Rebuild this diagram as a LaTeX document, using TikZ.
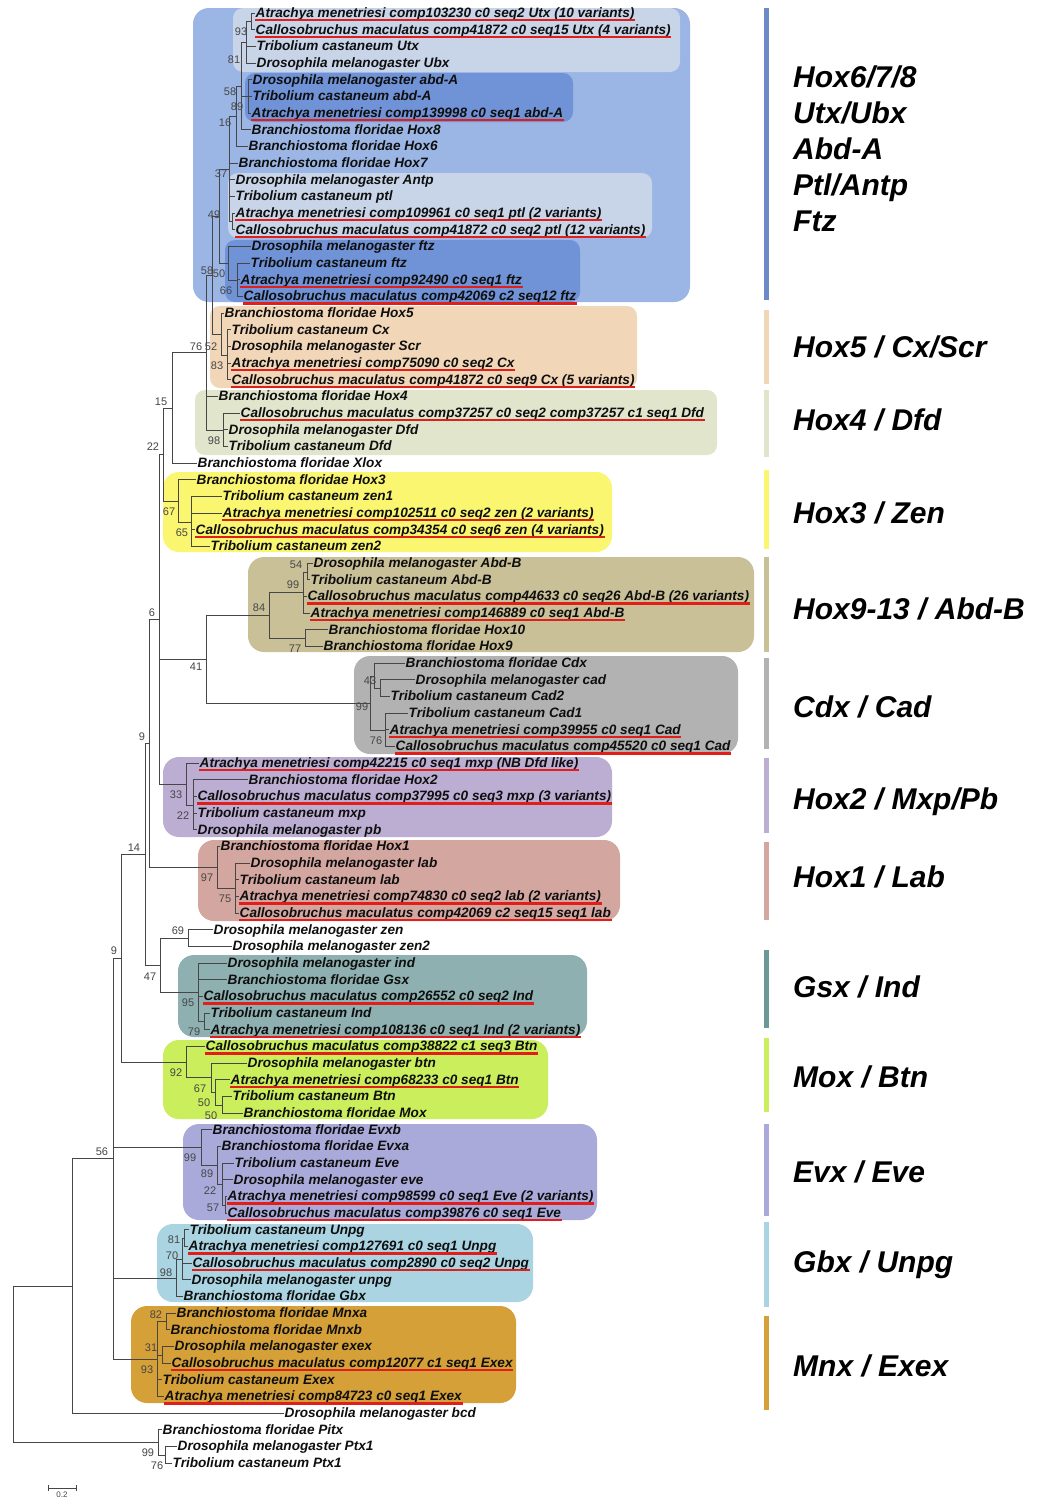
\documentclass[tikz,border=0pt]{standalone}
\usepackage{fontspec}
\setmainfont{Liberation Sans}
\usetikzlibrary{arrows.meta}
\definecolor{brgrey}{RGB}{70,70,70}
\definecolor{leaftxt}{RGB}{15,15,15}
\definecolor{hitred}{RGB}{225,30,25}
\definecolor{c678}{RGB}{155,182,228}
\definecolor{c678pale}{RGB}{200,212,232}
\definecolor{c678dark}{RGB}{112,146,214}
\definecolor{c678bar}{RGB}{108,138,200}
\definecolor{chox5}{RGB}{242,214,184}
\definecolor{chox4}{RGB}{224,229,204}
\definecolor{chox3}{RGB}{250,246,112}
\definecolor{cabdb}{RGB}{202,192,152}
\definecolor{ccdx}{RGB}{178,178,178}
\definecolor{chox2}{RGB}{188,174,210}
\definecolor{chox1}{RGB}{212,166,160}
\definecolor{cgsx}{RGB}{142,176,176}
\definecolor{cgsxbar}{RGB}{110,152,150}
\definecolor{cmox}{RGB}{202,238,92}
\definecolor{cevx}{RGB}{170,170,218}
\definecolor{cgbx}{RGB}{170,212,226}
\definecolor{cmnx}{RGB}{214,160,56}
\newcommand{\leaffont}{\fontsize{13.6}{14}\selectfont\bfseries\itshape}
\newcommand{\bsfont}{\fontsize{11}{12}\selectfont}
\newcommand{\grpfont}{\fontsize{30}{36}\selectfont\bfseries\itshape}
\tikzset{
  leaf/.style={anchor=west,inner sep=0.5pt,text height=11pt,text depth=2pt,
    font=\leaffont,text=leaftxt},
  uline/.style={draw=hitred,line width=2.2pt},
  beetle/.style={leaf,append after command={\pgfextra{\let\bnode\tikzlastnode}
    (\bnode.south west) edge[uline] (\bnode.south east)}},
  br/.style={draw=brgrey,line width=0.8pt},
  bs/.style={font=\bsfont,text=brgrey,inner sep=0pt},
  grp/.style={anchor=west,font=\grpfont,text=black,align=left,inner sep=0pt},
  clade/.style={rounded corners=16pt},
  sub/.style={rounded corners=10pt},
}
\begin{document}
\begin{tikzpicture}[x=1pt,y=-1pt]
  \useasboundingbox[fill=white] (0,0) rectangle (1044,1502);
  % clade boxes
  \fill[c678,clade] (193,8) rectangle (690,302);
  \fill[c678pale,sub] (233,8) rectangle (680,72);
  \fill[c678dark,sub] (245,73) rectangle (573,122);
  \fill[c678pale,sub] (228,173) rectangle (652,238);
  \fill[c678dark,sub] (225,240) rectangle (580,302);
  \fill[chox5,sub] (210,306) rectangle (637,388);
  \fill[chox4,sub] (195,390) rectangle (717,455);
  \fill[chox3,clade] (163,472) rectangle (612,552);
  \fill[cabdb,clade] (248,557) rectangle (754,652);
  \fill[ccdx,clade] (354,656) rectangle (738,754);
  \fill[chox2,clade] (163,757) rectangle (612,837);
  \fill[chox1,clade] (198,840) rectangle (620,921);
  \fill[cgsx,clade] (178,955) rectangle (587,1037);
  \fill[cmox,clade] (163,1040) rectangle (548,1119);
  \fill[cevx,clade] (183,1124) rectangle (597,1220);
  \fill[cgbx,clade] (157,1224) rectangle (533,1302);
  \fill[cmnx,clade] (131,1306) rectangle (516,1403);

  % Hox6/7/8 leaves
  \node[beetle] (AmUtx) at (255,13.0) {Atrachya menetriesi comp103230 c0 seq2 Utx (10 variants)};
  \node[beetle] (CmUtx) at (255,29.7) {Callosobruchus maculatus comp41872 c0 seq15 Utx (4 variants)};
  \node[leaf] (TcUtx) at (256,46.3) {Tribolium castaneum Utx};
  \node[leaf] (DmUbx) at (256,63.0) {Drosophila melanogaster Ubx};
  \node[leaf] (DmAbdA) at (252,79.7) {Drosophila melanogaster abd-A};
  \node[leaf] (TcAbdA) at (252,96.3) {Tribolium castaneum abd-A};
  \node[beetle] (AmAbdA) at (251,113.0) {Atrachya menetriesi comp139998 c0 seq1 abd-A};
  \node[leaf] (BfHox8) at (251,129.7) {Branchiostoma floridae Hox8};
  \node[leaf] (BfHox6) at (248,146.3) {Branchiostoma floridae Hox6};
  \node[leaf] (BfHox7) at (238,163.0) {Branchiostoma floridae Hox7};
  \node[leaf] (DmAntp) at (235,179.7) {Drosophila melanogaster Antp};
  \node[leaf] (TcPtl) at (235,196.3) {Tribolium castaneum ptl};
  \node[beetle] (AmPtl) at (235,213.0) {Atrachya menetriesi comp109961 c0 seq1 ptl (2 variants)};
  \node[beetle] (CmPtl) at (235,229.7) {Callosobruchus maculatus comp41872 c0 seq2 ptl (12 variants)};
  \node[leaf] (DmFtz) at (251,246.3) {Drosophila melanogaster ftz};
  \node[leaf] (TcFtz) at (250,263.0) {Tribolium castaneum ftz};
  \node[beetle] (AmFtz) at (240,279.7) {Atrachya menetriesi comp92490 c0 seq1 ftz};
  \node[beetle] (CmFtz) at (243,296.3) {Callosobruchus maculatus comp42069 c2 seq12 ftz};
  % Hox5, Hox4, Xlox, Hox3 leaves
  \node[leaf] (BfHox5) at (224,313.0) {Branchiostoma floridae Hox5};
  \node[leaf] (TcCx) at (231,329.7) {Tribolium castaneum Cx};
  \node[leaf] (DmScr) at (231,346.3) {Drosophila melanogaster Scr};
  \node[beetle] (AmCx) at (231,363.0) {Atrachya menetriesi comp75090 c0 seq2 Cx};
  \node[beetle] (CmCx) at (231,379.7) {Callosobruchus maculatus comp41872 c0 seq9 Cx (5 variants)};
  \node[leaf] (BfHox4) at (218,396.3) {Branchiostoma floridae Hox4};
  \node[beetle] (CmDfd) at (240,413.0) {Callosobruchus maculatus comp37257 c0 seq2 comp37257 c1 seq1 Dfd};
  \node[leaf] (DmDfd) at (228,429.7) {Drosophila melanogaster Dfd};
  \node[leaf] (TcDfd) at (228,446.3) {Tribolium castaneum Dfd};
  \node[leaf] (BfXlox) at (197,463.0) {Branchiostoma floridae Xlox};
  \node[leaf] (BfHox3) at (196,479.7) {Branchiostoma floridae Hox3};
  \node[leaf] (TcZen1) at (222,496.3) {Tribolium castaneum zen1};
  \node[beetle] (AmZen) at (222,513.0) {Atrachya menetriesi comp102511 c0 seq2 zen (2 variants)};
  \node[beetle] (CmZen) at (195,529.7) {Callosobruchus maculatus comp34354 c0 seq6 zen (4 variants)};
  \node[leaf] (TcZen2) at (210,546.3) {Tribolium castaneum zen2};
  % Abd-B and Cdx leaves
  \node[leaf] (DmAbdB) at (313,563.0) {Drosophila melanogaster Abd-B};
  \node[leaf] (TcAbdB) at (310,579.7) {Tribolium castaneum Abd-B};
  \node[beetle] (CmAbdB) at (307,596.3) {Callosobruchus maculatus comp44633 c0 seq26 Abd-B (26 variants)};
  \node[beetle] (AmAbdB) at (310,613.0) {Atrachya menetriesi comp146889 c0 seq1 Abd-B};
  \node[leaf] (BfHox10) at (328,629.7) {Branchiostoma floridae Hox10};
  \node[leaf] (BfHox9) at (323,646.3) {Branchiostoma floridae Hox9};
  \node[leaf] (BfCdx) at (405,663.0) {Branchiostoma floridae Cdx};
  \node[leaf] (DmCad) at (415,679.7) {Drosophila melanogaster cad};
  \node[leaf] (TcCad2) at (390,696.3) {Tribolium castaneum Cad2};
  \node[leaf] (TcCad1) at (408,713.0) {Tribolium castaneum Cad1};
  \node[beetle] (AmCad) at (389,729.7) {Atrachya menetriesi comp39955 c0 seq1 Cad};
  \node[beetle] (CmCad) at (395,746.3) {Callosobruchus maculatus comp45520 c0 seq1 Cad};
  % Hox2, Hox1 leaves
  \node[beetle] (AmMxp) at (199,763.0) {Atrachya menetriesi comp42215 c0 seq1 mxp (NB Dfd like)};
  \node[leaf] (BfHox2) at (248,779.7) {Branchiostoma floridae Hox2};
  \node[beetle] (CmMxp) at (197,796.3) {Callosobruchus maculatus comp37995 c0 seq3 mxp (3 variants)};
  \node[leaf] (TcMxp) at (197,813.0) {Tribolium castaneum mxp};
  \node[leaf] (DmPb) at (197,829.7) {Drosophila melanogaster pb};
  \node[leaf] (BfHox1) at (220,846.3) {Branchiostoma floridae Hox1};
  \node[leaf] (DmLab) at (250,863.0) {Drosophila melanogaster lab};
  \node[leaf] (TcLab) at (239,879.7) {Tribolium castaneum lab};
  \node[beetle] (AmLab) at (239,896.3) {Atrachya menetriesi comp74830 c0 seq2 lab (2 variants)};
  \node[beetle] (CmLab) at (239,913.0) {Callosobruchus maculatus comp42069 c2 seq15 seq1 lab};
  % zen, Gsx, Mox leaves
  \node[leaf] (DmZen) at (213,929.7) {Drosophila melanogaster zen};
  \node[leaf] (DmZen2) at (232,946.3) {Drosophila melanogaster zen2};
  \node[leaf] (DmInd) at (227,963.0) {Drosophila melanogaster ind};
  \node[leaf] (BfGsx) at (227,979.7) {Branchiostoma floridae Gsx};
  \node[beetle] (CmInd) at (203,996.3) {Callosobruchus maculatus comp26552 c0 seq2 Ind};
  \node[leaf] (TcInd) at (210,1013.0) {Tribolium castaneum Ind};
  \node[beetle] (AmInd) at (210,1029.7) {Atrachya menetriesi comp108136 c0 seq1 Ind (2 variants)};
  \node[beetle] (CmBtn) at (205,1046.3) {Callosobruchus maculatus comp38822 c1 seq3 Btn};
  \node[leaf] (DmBtn) at (247,1063.0) {Drosophila melanogaster btn};
  \node[beetle] (AmBtn) at (230,1079.7) {Atrachya menetriesi comp68233 c0 seq1 Btn};
  \node[leaf] (TcBtn) at (232,1096.3) {Tribolium castaneum Btn};
  \node[leaf] (BfMox) at (243,1113.0) {Branchiostoma floridae Mox};
  % Evx, Gbx, Mnx leaves
  \node[leaf] (BfEvxb) at (212,1129.7) {Branchiostoma floridae Evxb};
  \node[leaf] (BfEvxa) at (221,1146.3) {Branchiostoma floridae Evxa};
  \node[leaf] (TcEve) at (234,1163.0) {Tribolium castaneum Eve};
  \node[leaf] (DmEve) at (233,1179.7) {Drosophila melanogaster eve};
  \node[beetle] (AmEve) at (227,1196.3) {Atrachya menetriesi comp98599 c0 seq1 Eve (2 variants)};
  \node[beetle] (CmEve) at (227,1213.0) {Callosobruchus maculatus comp39876 c0 seq1 Eve};
  \node[leaf] (TcUnpg) at (189,1229.7) {Tribolium castaneum Unpg};
  \node[beetle] (AmUnpg) at (188,1246.3) {Atrachya menetriesi comp127691 c0 seq1 Unpg};
  \node[beetle] (CmUnpg) at (192,1263.0) {Callosobruchus maculatus comp2890 c0 seq2 Unpg};
  \node[leaf] (DmUnpg) at (191,1279.7) {Drosophila melanogaster unpg};
  \node[leaf] (BfGbx) at (183,1296.3) {Branchiostoma floridae Gbx};
  \node[leaf] (BfMnxa) at (176,1313.0) {Branchiostoma floridae Mnxa};
  \node[leaf] (BfMnxb) at (170,1329.7) {Branchiostoma floridae Mnxb};
  \node[leaf] (DmExex) at (174,1346.3) {Drosophila melanogaster exex};
  \node[beetle] (CmExex) at (171,1363.0) {Callosobruchus maculatus comp12077 c1 seq1 Exex};
  \node[leaf] (TcExex) at (162,1379.7) {Tribolium castaneum Exex};
  \node[beetle] (AmExex) at (164,1396.3) {Atrachya menetriesi comp84723 c0 seq1 Exex};
  \node[leaf] (DmBcd) at (284,1413.0) {Drosophila melanogaster bcd};
  \node[leaf] (BfPitx) at (162,1429.7) {Branchiostoma floridae Pitx};
  \node[leaf] (DmPtx1) at (177,1446.3) {Drosophila melanogaster Ptx1};
  \node[leaf] (TcPtx1) at (172,1463.0) {Tribolium castaneum Ptx1};

  % internal nodes
  \coordinate (utx93) at (251,21.5);
  \coordinate (utx81) at (246,42);
  \coordinate (abd89) at (248,96.5);
  \coordinate (abd58) at (241,86);
  \coordinate (hox16) at (236,116.5);
  \coordinate (ptl2) at (232,221.5);
  \coordinate (antp37) at (229,169);
  \coordinate (ftz66) at (237,280);
  \coordinate (ftz50) at (228,263.5);
  \coordinate (ant49) at (219,216);
  \coordinate (cx83) at (227,355);
  \coordinate (cx52) at (221,334);
  \coordinate (hox58) at (212,275);
  \coordinate (dfd98) at (223,430);
  \coordinate (hox76) at (206,352.5);
  \coordinate (hox15) at (172,408);
  \coordinate (zen65) at (191,522);
  \coordinate (zen67) at (178,501);
  \coordinate (hox22) at (163,454.5);
  \coordinate (abdb54) at (307,572);
  \coordinate (abdb99) at (303,592.5);
  \coordinate (abdb77) at (305,638.5);
  \coordinate (abdb84) at (269,615.5);
  \coordinate (cad2) at (380,688.5);
  \coordinate (cdx43) at (374,676);
  \coordinate (cad76) at (385,730);
  \coordinate (cdx99) at (370,703);
  \coordinate (post41) at (206,659);
  \coordinate (mxp22) at (193,805);
  \coordinate (mxp33) at (186,784);
  \coordinate (hox6) at (159,619.5);
  \coordinate (lab75) at (235,888);
  \coordinate (lab97) at (217,867.5);
  \coordinate (hox9) at (149,743.5);
  \coordinate (zen69) at (188,938.5);
  \coordinate (ind79) at (204,1021.5);
  \coordinate (ind95) at (198,992.2);
  \coordinate (ind47) at (160,965.4);
  \coordinate (hox14) at (145,854.4);
  \coordinate (btn50b) at (222,1105);
  \coordinate (btn50a) at (215,1092.5);
  \coordinate (btn67) at (211,1077.8);
  \coordinate (btn92) at (186,1062.4);
  \coordinate (anhox9) at (121,958.4);
  \coordinate (eve57) at (225,1205);
  \coordinate (eve22) at (222,1184);
  \coordinate (eve89) at (217,1165.5);
  \coordinate (eve99) at (201,1147.8);
  \coordinate (unpg81) at (184,1238.5);
  \coordinate (unpg70) at (182,1259.2);
  \coordinate (gbx98) at (176,1278.1);
  \coordinate (mnx82) at (166,1321.5);
  \coordinate (exex31) at (162,1355);
  \coordinate (mnx93) at (157,1359.2);
  \coordinate (hox56) at (113,1158.8);
  \coordinate (ingrp) at (72,1285.9);
  \coordinate (ptx76) at (165,1455);
  \coordinate (ptx99) at (158,1442.5);
  \coordinate (root) at (13,1364.2);

  % branches
  \draw[br] (utx93) |- (AmUtx.west) (utx93) |- (CmUtx.west);
  \draw[br] (utx81) |- (utx93) (utx81) |- (TcUtx.west) (utx81) |- (DmUbx.west);
  \draw[br] (abd89) |- (DmAbdA.west) (abd89) |- (TcAbdA.west) (abd89) |- (AmAbdA.west);
  \draw[br] (abd58) |- (utx81) (abd58) |- (abd89) (abd58) |- (BfHox8.west);
  \draw[br] (hox16) |- (abd58) (hox16) |- (BfHox6.west);
  \draw[br] (ptl2) |- (AmPtl.west) (ptl2) |- (CmPtl.west);
  \draw[br] (antp37) |- (hox16) (antp37) |- (BfHox7.west) (antp37) |- (DmAntp.west)
    (antp37) |- (TcPtl.west) (antp37) |- (ptl2);
  \draw[br] (ftz66) |- (TcFtz.west) (ftz66) |- (AmFtz.west) (ftz66) |- (CmFtz.west);
  \draw[br] (ftz50) |- (DmFtz.west) (ftz50) |- (ftz66);
  \draw[br] (ant49) |- (antp37) (ant49) |- (ftz50);
  \draw[br] (cx83) |- (TcCx.west) (cx83) |- (DmScr.west) (cx83) |- (AmCx.west) (cx83) |- (CmCx.west);
  \draw[br] (cx52) |- (BfHox5.west) (cx52) |- (cx83);
  \draw[br] (hox58) |- (ant49) (hox58) |- (cx52);
  \draw[br] (dfd98) |- (CmDfd.west) (dfd98) |- (DmDfd.west) (dfd98) |- (TcDfd.west);
  \draw[br] (hox76) |- (hox58) (hox76) |- (BfHox4.west) (hox76) |- (dfd98);
  \draw[br] (hox15) |- (hox76) (hox15) |- (BfXlox.west);
  \draw[br] (zen65) |- (TcZen1.west) (zen65) |- (AmZen.west) (zen65) |- (CmZen.west) (zen65) |- (TcZen2.west);
  \draw[br] (zen67) |- (BfHox3.west) (zen67) |- (zen65);
  \draw[br] (hox22) |- (hox15) (hox22) |- (zen67);
  \draw[br] (abdb54) |- (DmAbdB.west) (abdb54) |- (TcAbdB.west);
  \draw[br] (abdb99) |- (abdb54) (abdb99) |- (CmAbdB.west) (abdb99) |- (AmAbdB.west);
  \draw[br] (abdb77) |- (BfHox10.west) (abdb77) |- (BfHox9.west);
  \draw[br] (abdb84) |- (abdb99) (abdb84) |- (abdb77);
  \draw[br] (cad2) |- (DmCad.west) (cad2) |- (TcCad2.west);
  \draw[br] (cdx43) |- (BfCdx.west) (cdx43) |- (cad2);
  \draw[br] (cad76) |- (TcCad1.west) (cad76) |- (AmCad.west) (cad76) |- (CmCad.west);
  \draw[br] (cdx99) |- (cdx43) (cdx99) |- (cad76);
  \draw[br] (post41) |- (abdb84) (post41) |- (cdx99);
  \draw[br] (mxp22) |- (BfHox2.west) (mxp22) |- (CmMxp.west) (mxp22) |- (TcMxp.west) (mxp22) |- (DmPb.west);
  \draw[br] (mxp33) |- (AmMxp.west) (mxp33) |- (mxp22);
  \draw[br] (hox6) |- (hox22) (hox6) |- (post41) (hox6) |- (mxp33);
  \draw[br] (lab75) |- (DmLab.west) (lab75) |- (TcLab.west) (lab75) |- (AmLab.west) (lab75) |- (CmLab.west);
  \draw[br] (lab97) |- (BfHox1.west) (lab97) |- (lab75);
  \draw[br] (hox9) |- (hox6) (hox9) |- (lab97);
  \draw[br] (zen69) |- (DmZen.west) (zen69) |- (DmZen2.west);
  \draw[br] (ind79) |- (TcInd.west) (ind79) |- (AmInd.west);
  \draw[br] (ind95) |- (DmInd.west) (ind95) |- (BfGsx.west) (ind95) |- (CmInd.west) (ind95) |- (ind79);
  \draw[br] (ind47) |- (zen69) (ind47) |- (ind95);
  \draw[br] (hox14) |- (hox9) (hox14) |- (ind47);
  \draw[br] (btn50b) |- (TcBtn.west) (btn50b) |- (BfMox.west);
  \draw[br] (btn50a) |- (AmBtn.west) (btn50a) |- (btn50b);
  \draw[br] (btn67) |- (DmBtn.west) (btn67) |- (btn50a);
  \draw[br] (btn92) |- (CmBtn.west) (btn92) |- (btn67);
  \draw[br] (anhox9) |- (hox14) (anhox9) |- (btn92);
  \draw[br] (eve57) |- (AmEve.west) (eve57) |- (CmEve.west);
  \draw[br] (eve22) |- (TcEve.west) (eve22) |- (DmEve.west) (eve22) |- (eve57);
  \draw[br] (eve89) |- (BfEvxa.west) (eve89) |- (eve22);
  \draw[br] (eve99) |- (BfEvxb.west) (eve99) |- (eve89);
  \draw[br] (unpg81) |- (TcUnpg.west) (unpg81) |- (AmUnpg.west);
  \draw[br] (unpg70) |- (unpg81) (unpg70) |- (CmUnpg.west) (unpg70) |- (DmUnpg.west);
  \draw[br] (gbx98) |- (unpg70) (gbx98) |- (BfGbx.west);
  \draw[br] (mnx82) |- (BfMnxa.west) (mnx82) |- (BfMnxb.west);
  \draw[br] (exex31) |- (DmExex.west) (exex31) |- (CmExex.west);
  \draw[br] (mnx93) |- (mnx82) (mnx93) |- (exex31) (mnx93) |- (TcExex.west) (mnx93) |- (AmExex.west);
  \draw[br] (hox56) |- (anhox9) (hox56) |- (eve99) (hox56) |- (gbx98) (hox56) |- (mnx93);
  \draw[br] (ingrp) |- (hox56) (ingrp) |- (DmBcd.west);
  \draw[br] (ptx76) |- (DmPtx1.west) (ptx76) |- (TcPtx1.west);
  \draw[br] (ptx99) |- (BfPitx.west) (ptx99) |- (ptx76);
  \draw[br] (root) |- (ingrp) (root) |- (ptx99);

  % bootstrap values
  \node[bs] at (241,32) {93};
  \node[bs] at (234,60) {81};
  \node[bs] at (230,92) {58};
  \node[bs] at (237,107) {89};
  \node[bs] at (225,123) {16};
  \node[bs] at (221,174) {37};
  \node[bs] at (214,215) {49};
  \node[bs] at (207,271) {58};
  \node[bs] at (219,274) {50};
  \node[bs] at (226,291) {66};
  \node[bs] at (196,347) {76};
  \node[bs] at (211,347) {52};
  \node[bs] at (217,366) {83};
  \node[bs] at (161,402) {15};
  \node[bs] at (214,441) {98};
  \node[bs] at (153,447) {22};
  \node[bs] at (169,512) {67};
  \node[bs] at (182,533) {65};
  \node[bs] at (296,565) {54};
  \node[bs] at (293,585) {99};
  \node[bs] at (259,608) {84};
  \node[bs] at (152,613) {6};
  \node[bs] at (295,649) {77};
  \node[bs] at (196,667) {41};
  \node[bs] at (370,681) {43};
  \node[bs] at (362,707) {99};
  \node[bs] at (376,741) {76};
  \node[bs] at (142,737) {9};
  \node[bs] at (176,795) {33};
  \node[bs] at (183,816) {22};
  \node[bs] at (134,848) {14};
  \node[bs] at (207,878) {97};
  \node[bs] at (225,899) {75};
  \node[bs] at (178,931) {69};
  \node[bs] at (114,951) {9};
  \node[bs] at (150,977) {47};
  \node[bs] at (188,1003) {95};
  \node[bs] at (194,1032) {79};
  \node[bs] at (176,1073) {92};
  \node[bs] at (200,1089) {67};
  \node[bs] at (204,1103) {50};
  \node[bs] at (211,1116) {50};
  \node[bs] at (102,1152) {56};
  \node[bs] at (190,1158) {99};
  \node[bs] at (207,1174) {89};
  \node[bs] at (210,1191) {22};
  \node[bs] at (213,1208) {57};
  \node[bs] at (174,1240) {81};
  \node[bs] at (172,1256) {70};
  \node[bs] at (166,1273) {98};
  \node[bs] at (156,1315) {82};
  \node[bs] at (151,1348) {31};
  \node[bs] at (147,1370) {93};
  \node[bs] at (148,1453) {99};
  \node[bs] at (157,1466) {76};

  % scale bar
  \draw[br,{Bar[width=6pt]}-{Bar[width=6pt]}] (48,1488) -- (77,1488);
  \node[bs,anchor=north,font=\fontsize{8}{9}\selectfont] at (62,1491.5) {0.2};

  % group bars and names
  \fill[c678bar] (764,8) rectangle (769,300);
  \fill[chox5] (764,310) rectangle (769,384);
  \fill[chox4] (764,390) rectangle (769,457);
  \fill[chox3] (764,470) rectangle (769,549);
  \fill[cabdb] (764,557) rectangle (769,652);
  \fill[ccdx] (764,658) rectangle (769,749);
  \fill[chox2] (764,758) rectangle (769,833);
  \fill[chox1] (764,842) rectangle (769,920);
  \fill[cgsxbar] (764,950) rectangle (769,1028);
  \fill[cmox] (764,1038) rectangle (769,1112);
  \fill[cevx] (764,1124) rectangle (769,1216);
  \fill[cgbx] (764,1222) rectangle (769,1307);
  \fill[cmnx] (764,1316) rectangle (769,1410);
  \node[grp] (g678) at (793,149) {Hox6/7/8\\Utx/Ubx\\Abd-A\\Ptl/Antp\\Ftz};
  \node[grp] (g5) at (793,347) {Hox5 / Cx/Scr};
  \node[grp] (g4) at (793,420) {Hox4 / Dfd};
  \node[grp] (g3) at (793,513) {Hox3 / Zen};
  \node[grp] (g913) at (793,609) {Hox9-13 / Abd-B};
  \node[grp] (gcdx) at (793,707) {Cdx / Cad};
  \node[grp] (g2) at (793,802) {Hox2 / Mxp/Pb};
  \node[grp] (g1) at (793,877) {Hox1 / Lab};
  \node[grp] (ggsx) at (793,987) {Gsx / Ind};
  \node[grp] (gmox) at (793,1077) {Mox / Btn};
  \node[grp] (gevx) at (793,1172) {Evx / Eve};
  \node[grp] (ggbx) at (793,1265) {Gbx / Unpg};
  \node[grp] (gmnx) at (793,1366) {Mnx / Exex};
\end{tikzpicture}
\end{document}
